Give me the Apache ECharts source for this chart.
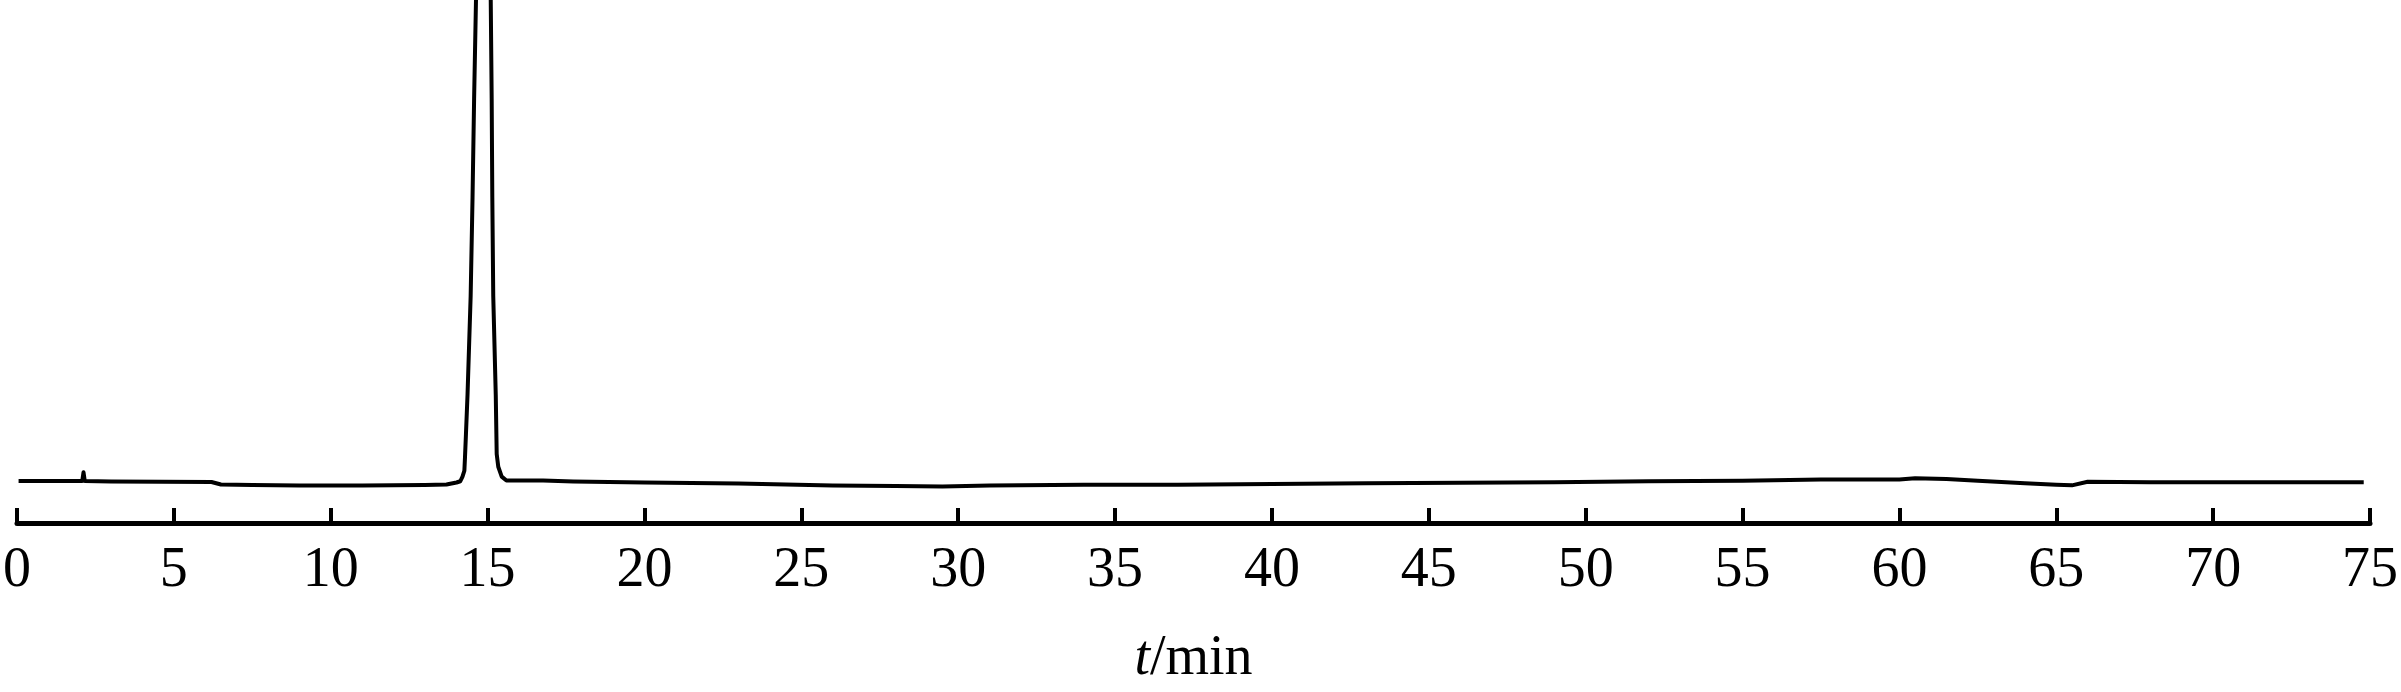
<!DOCTYPE html>
<html>
<head>
<meta charset="utf-8">
<script src="https://cdn.jsdelivr.net/npm/echarts@6/dist/echarts.min.js"></script>
<style>
html,body{margin:0;padding:0;background:#fff;}
#chart{width:2401px;height:692px;}
</style>
</head>
<body>
<div id="chart"></div>
<script>
// Retention time (min)
var times = [0.05, 2.08, 2.12, 2.16, 3.0, 6.2, 6.5, 7.5, 9.0, 11.0, 13.0, 13.69, 14.01, 14.13, 14.20, 14.26, 14.28, 14.31, 14.36, 14.46, 14.52, 14.57, 14.63, 14.86, 15.10, 15.13, 15.15, 15.18, 15.26, 15.29, 15.34, 15.45, 15.60, 16.77, 17.73, 20.0, 23.0, 26.0, 28.0, 29.5, 31.0, 34.0, 37.0, 40.0, 43.0, 46.0, 49.0, 52.0, 55.0, 57.5, 60.0, 60.5, 61.5, 62.5, 64.0, 65.0, 65.5, 66.0, 68.0, 74.8];
// Detector signal (a.u.)
var signal = [8.02, 8.02, 9.7, 8.02, 7.92, 7.83, 7.36, 7.26, 7.17, 7.17, 7.26, 7.36, 7.74, 7.98, 8.87, 10.0, 12.64, 16.98, 24.5, 43.4, 62.3, 81.1, 100, 156.6, 100, 81.1, 62.3, 43.4, 24.5, 13.2, 10.75, 8.87, 8.11, 8.11, 7.92, 7.74, 7.55, 7.17, 7.08, 6.98, 7.17, 7.3, 7.3, 7.45, 7.6, 7.7, 7.8, 7.98, 8.1, 8.3, 8.3, 8.55, 8.4, 8.1, 7.6, 7.3, 7.2, 7.9, 7.8, 7.8];
var xTicks = [0, 5, 10, 15, 20, 25, 30, 35, 40, 45, 50, 55, 60, 65, 70, 75];

var data = times.map(function (t, i) { return [t, signal[i]]; });

var chart = echarts.init(document.getElementById('chart'), null, {renderer: 'canvas'});
chart.setOption({
  backgroundColor: '#ffffff',
  animation: false,
  grid: {left: 12.5, right: 29.5, top: 0, bottom: 161.5, containLabel: false},
  xAxis: {
    type: 'value',
    min: xTicks[0],
    max: xTicks[xTicks.length - 1],
    interval: 5,
    name: '{i|t}/min',
    nameLocation: 'middle',
    nameGap: 108,
    nameTextStyle: {
      color: '#000', fontSize: 56, fontFamily: 'Liberation Serif',
      rich: {i: {fontStyle: 'italic', fontSize: 56, fontFamily: 'Liberation Serif', color: '#000'}}
    },
    axisLine: {show: true, onZero: false, lineStyle: {color: '#000', width: 5}},
    axisTick: {show: true, inside: true, length: 15, lineStyle: {color: '#000', width: 4}},
    axisLabel: {color: '#000', fontSize: 56, fontFamily: 'Liberation Serif', margin: 20},
    splitLine: {show: false}
  },
  yAxis: {
    type: 'value', min: 0, max: 100, show: false,
    splitLine: {show: false}
  },
  series: [{
    type: 'line',
    data: data,
    showSymbol: false,
    symbol: 'none',
    clip: true,
    lineStyle: {color: '#000', width: 4, cap: 'butt', join: 'round'}
  }]
});
</script>
</body>
</html>
